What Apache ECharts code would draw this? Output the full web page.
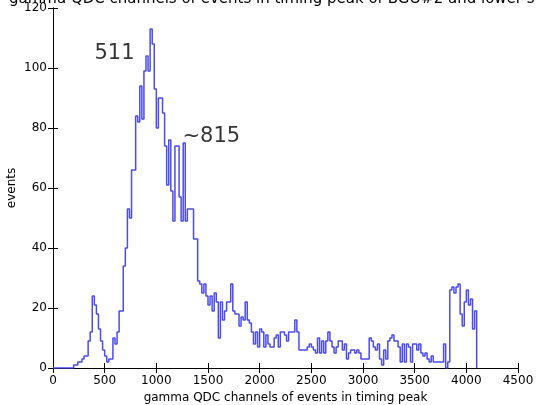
<!DOCTYPE html>
<html>
<head>
<meta charset="utf-8">
<script src="https://cdn.jsdelivr.net/npm/echarts@6/dist/echarts.min.js"></script>
<style>html,body{margin:0;padding:0;background:#fff}#c{width:536px;height:405px}</style>
</head>
<body>
<div id="c"></div>
<script>
const titleText = "gamma QDC channels of events in timing peak of BGO#2 and lower state";
const xAxisName = "gamma QDC channels of events in timing peak";
const yAxisName = "events";
const xTicks = [0, 500, 1000, 1500, 2000, 2500, 3000, 3500, 4000, 4500];
const yTicks = [0, 20, 40, 60, 80, 100, 120];
const binStart = 0;
const binWidth = 20;
const counts = [
  0,0,0,0,0,0,0,0,0,0,
  1,1,2,2,3,4,4,9,12,24,
  21,18,13,9,6,4,2,3,3,10,
  8,12,19,19,34,40,53,50,66,66,
  84,82,94,83,99,104,99,113,108,93,
  80,90,90,85,74,61,76,59,49,74,
  74,57,49,75,49,53,53,53,43,43,
  29,28,25,28,24,21,24,19,25,22,
  10,22,16,19,22,22,28,19,18,18,
  14,17,16,22,16,15,12,8,12,7,
  13,12,7,11,8,7,7,10,11,7,
  12,12,11,9,12,12,12,16,12,6,
  6,6,6,7,8,7,6,5,10,5,
  9,5,9,12,9,7,5,7,9,9,
  6,8,3,5,6,6,5,6,5,3,
  3,3,3,10,9,7,6,8,3,1,
  6,3,9,10,11,9,9,7,2,8,
  2,8,7,2,8,8,6,8,5,4,
  5,3,2,4,2,2,2,2,2,8,
  0,2,26,27,25,27,28,18,14,22,
  26,21,23,13,19
];
const annotations = [
  {text: "511", x: 406, y: 101},
  {text: "~815", x: 1258, y: 73.5}
];

const stepData = counts.map((v, i) => [binStart + i * binWidth, v]);
stepData.push([binStart + counts.length * binWidth, 0]);

const chart = echarts.init(document.getElementById('c'), null, {renderer: 'canvas'});
const font = 'DejaVu Sans';
const tickCommon = {show: true, inside: true, length: 5, lineStyle: {color: '#000', width: 1}};
chart.setOption({
  animation: false,
  backgroundColor: '#fff',
  textStyle: {fontFamily: font},
  title: {
    text: titleText, left: 4, top: -13,
    textStyle: {fontFamily: font, fontSize: 15, fontWeight: 'normal', color: '#000'}
  },
  grid: {left: 53, right: 18, top: 8, bottom: 37, show: false, containLabel: false, outerBoundsMode: 'none'},
  xAxis: [{
    type: 'value', min: 0, max: 4500, interval: 500,
    name: xAxisName, nameLocation: 'middle', nameGap: 24, nameMoveOverlap: false,
    nameTextStyle: {fontFamily: font, fontSize: 12, color: '#000'},
    axisLine: {show: true, lineStyle: {color: '#000', width: 1}},
    axisTick: tickCommon,
    axisLabel: {fontFamily: font, fontSize: 12, color: '#000', margin: 7,
      formatter: v => String(v)},
    splitLine: {show: false}
  }, {
    type: 'value', min: 0, max: 4500, interval: 500, position: 'top',
    axisLine: {show: true, lineStyle: {color: '#000', width: 1}},
    axisTick: tickCommon, axisLabel: {show: false}, splitLine: {show: false}
  }],
  yAxis: [{
    type: 'value', min: 0, max: 120, interval: 20,
    name: yAxisName, nameLocation: 'middle', nameGap: 35, nameMoveOverlap: false,
    nameTextStyle: {fontFamily: font, fontSize: 12, color: '#000'},
    axisLine: {show: true, lineStyle: {color: '#000', width: 1}},
    axisTick: tickCommon,
    axisLabel: {fontFamily: font, fontSize: 12, color: '#000', margin: 6,
      formatter: v => String(v)},
    splitLine: {show: false}
  }, {
    type: 'value', min: 0, max: 120, interval: 20, position: 'right',
    axisLine: {show: true, lineStyle: {color: '#000', width: 1}},
    axisTick: tickCommon, axisLabel: {show: false}, splitLine: {show: false}
  }],
  series: [{
    type: 'line', step: 'end', data: stepData, symbol: 'none',
    lineStyle: {color: '#4b4bee', width: 1.5}, z: 3
  }, {
    type: 'scatter', symbolSize: 1, itemStyle: {color: 'rgba(0,0,0,0)'},
    data: annotations.map(a => ({value: [a.x, a.y], name: a.text})),
    label: {show: true, formatter: p => p.name, position: [0, 0], align: 'left', verticalAlign: 'bottom',
      fontFamily: font, fontSize: 21, color: '#000'},
    z: 4
  }]
});
</script>
</body>
</html>
